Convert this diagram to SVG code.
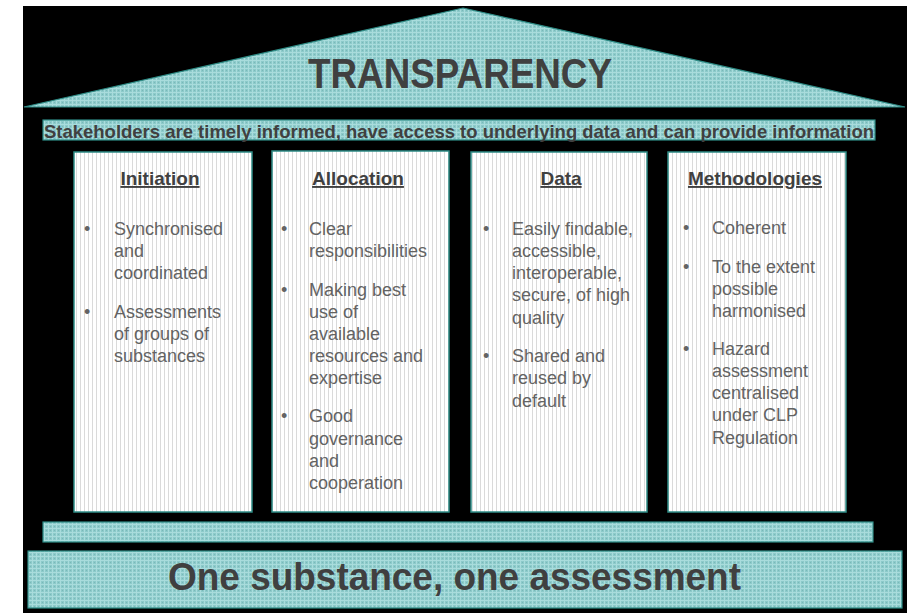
<svg xmlns="http://www.w3.org/2000/svg" width="907" height="613" viewBox="0 0 907 613">
<defs>
<pattern id="teal" width="4" height="4" patternUnits="userSpaceOnUse">
<rect width="4" height="4" fill="#8ccaca"/>
<rect x="0" y="0" width="4" height="1" fill="#a9dcdc"/>
<rect x="0" y="0" width="1" height="4" fill="#a9dcdc"/>
<rect x="2" y="2" width="1" height="1" fill="#7ab8b8"/>
</pattern>
<pattern id="stripe" width="4" height="10" patternUnits="userSpaceOnUse">
<rect width="4" height="10" fill="#ffffff"/>
<rect x="0" y="0" width="1" height="10" fill="#dadada"/>
</pattern>
<style>
.teal{fill:url(#teal);stroke:#2e8c86;stroke-width:1.2}
.col{fill:url(#stripe);stroke:#2e8c86;stroke-width:1.5}
.hd{font-family:"Liberation Sans",Arial,sans-serif;font-weight:bold;font-size:19px;fill:#404040;text-anchor:middle;text-decoration:underline}
.tx{font-family:"Liberation Sans",Arial,sans-serif;font-size:18px;fill:#636363}
.big{font-family:"Liberation Sans",Arial,sans-serif;font-weight:bold;fill:#404040}
</style>
</defs>
<rect x="23" y="6" width="884" height="607" fill="#000000"/>

<g id="roof">
<polygon class="teal" points="463,8 905,107 24,107"/>
<text class="big" x="460" y="88" font-size="42" textLength="304" lengthAdjust="spacingAndGlyphs" text-anchor="middle">TRANSPARENCY</text>
</g>

<g id="banner">
<rect class="teal" x="43" y="120" width="832" height="20"/>
<text class="big" x="44" y="138" font-size="19" fill="#3c4a4a" textLength="830" lengthAdjust="spacingAndGlyphs">Stakeholders are timely informed, have access to underlying data and can provide information</text>
</g>

<g id="initiation">
<rect class="col" x="74" y="152" width="178" height="360"/>
<text class="hd" x="160" y="185">Initiation</text>
<text class="tx" x="84" y="235">•</text>
<text class="tx" x="114" y="235">Synchronised</text>
<text class="tx" x="114" y="257">and</text>
<text class="tx" x="114" y="279">coordinated</text>
<text class="tx" x="84" y="318">•</text>
<text class="tx" x="114" y="318">Assessments</text>
<text class="tx" x="114" y="340">of groups of</text>
<text class="tx" x="114" y="362">substances</text>
</g>

<g id="allocation">
<rect class="col" x="272" y="151" width="177" height="361"/>
<text class="hd" x="358" y="185">Allocation</text>
<text class="tx" x="281" y="235">•</text>
<text class="tx" x="309" y="235">Clear</text>
<text class="tx" x="309" y="257">responsibilities</text>
<text class="tx" x="281" y="296">•</text>
<text class="tx" x="309" y="296">Making best</text>
<text class="tx" x="309" y="318">use of</text>
<text class="tx" x="309" y="340">available</text>
<text class="tx" x="309" y="362">resources and</text>
<text class="tx" x="309" y="384">expertise</text>
<text class="tx" x="281" y="422">•</text>
<text class="tx" x="309" y="422">Good</text>
<text class="tx" x="309" y="445">governance</text>
<text class="tx" x="309" y="467">and</text>
<text class="tx" x="309" y="489">cooperation</text>
</g>

<g id="data">
<rect class="col" x="471" y="152" width="176" height="360"/>
<text class="hd" x="561" y="185">Data</text>
<text class="tx" x="483" y="235">•</text>
<text class="tx" x="512" y="235">Easily findable,</text>
<text class="tx" x="512" y="257">accessible,</text>
<text class="tx" x="512" y="279">interoperable,</text>
<text class="tx" x="512" y="301">secure, of high</text>
<text class="tx" x="512" y="324">quality</text>
<text class="tx" x="483" y="362">•</text>
<text class="tx" x="512" y="362">Shared and</text>
<text class="tx" x="512" y="384">reused by</text>
<text class="tx" x="512" y="407">default</text>
</g>

<g id="methodologies">
<rect class="col" x="668" y="152" width="178" height="360"/>
<text class="hd" x="755" y="185">Methodologies</text>
<text class="tx" x="683" y="234">•</text>
<text class="tx" x="712" y="234">Coherent</text>
<text class="tx" x="683" y="273">•</text>
<text class="tx" x="712" y="273">To the extent</text>
<text class="tx" x="712" y="295">possible</text>
<text class="tx" x="712" y="317">harmonised</text>
<text class="tx" x="683" y="355">•</text>
<text class="tx" x="712" y="355">Hazard</text>
<text class="tx" x="712" y="377">assessment</text>
<text class="tx" x="712" y="399">centralised</text>
<text class="tx" x="712" y="421">under CLP</text>
<text class="tx" x="712" y="444">Regulation</text>
</g>

<g id="plinth">
<rect class="teal" x="43" y="522" width="830" height="20"/>
</g>

<g id="base">
<rect class="teal" x="28" y="551" width="874" height="57"/>
<text class="big" x="168" y="590" font-size="38" textLength="573" lengthAdjust="spacingAndGlyphs">One substance, one assessment</text>
</g>

<g id="connectors"></g>
</svg>
